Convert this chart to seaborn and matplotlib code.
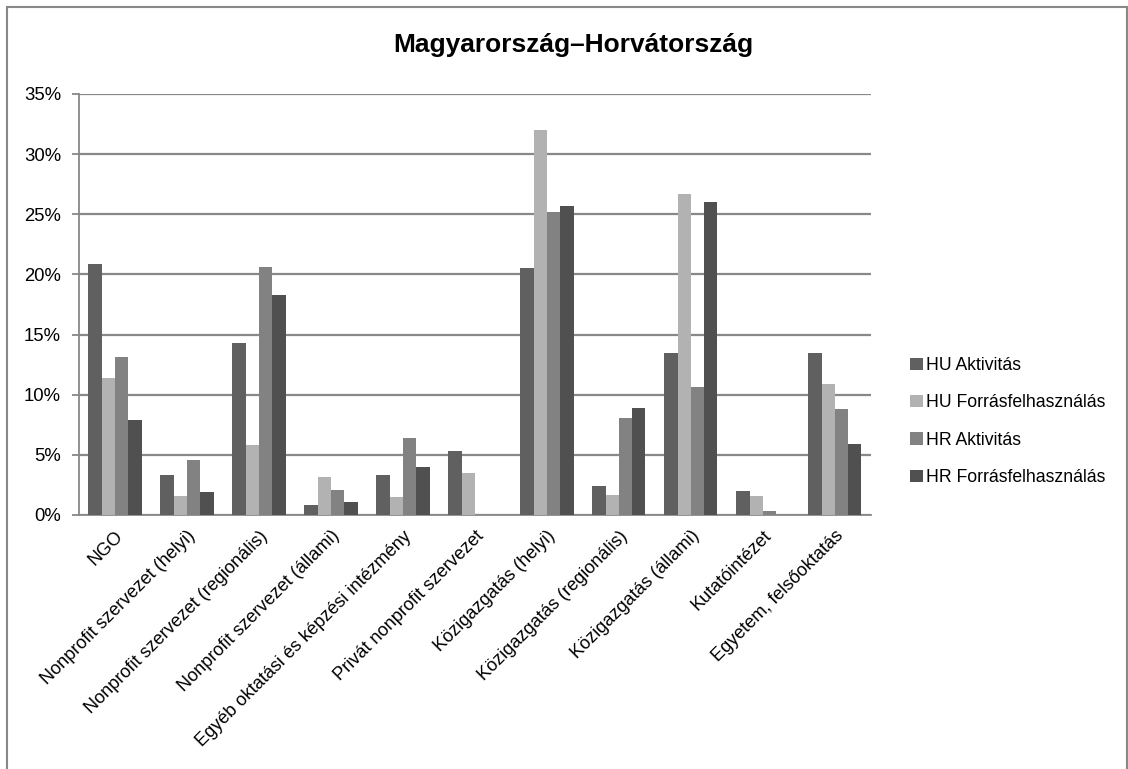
import numpy as np
import pandas as pd
import matplotlib.pyplot as plt
import seaborn as sns
from matplotlib.patches import Rectangle
from matplotlib.ticker import FuncFormatter

# Data
categories = ['NGO', 'Nonprofit szervezet (helyi)', 'Nonprofit szervezet (regionális)',
              'Nonprofit szervezet (állami)', 'Egyéb oktatási és képzési intézmény',
              'Privát nonprofit szervezet', 'Közigazgatás (helyi)', 'Közigazgatás (regionális)',
              'Közigazgatás (állami)', 'Kutatóintézet', 'Egyetem, felsőoktatás']
series = ['HU Aktivitás', 'HU Forrásfelhasználás', 'HR Aktivitás', 'HR Forrásfelhasználás']
hu_akt = [20.9, 3.3, 14.3, 0.8, 3.3, 5.3, 20.5, 2.4, 13.5, 2.0, 13.5]
hu_forr = [11.4, 1.6, 5.8, 3.2, 1.5, 3.5, 32.0, 1.7, 26.7, 1.6, 10.9]
hr_akt = [13.1, 4.6, 20.6, 2.1, 6.4, 0.0, 25.2, 8.1, 10.6, 0.3, 8.8]
hr_forr = [7.9, 1.9, 18.3, 1.1, 4.0, 0.0, 25.7, 8.9, 26.0, 0.0, 5.9]
colors = ['#606060', '#b2b2b2', '#828282', '#505050']

rows = []
for name, vals in zip(series, [hu_akt, hu_forr, hr_akt, hr_forr]):
    for cat, v in zip(categories, vals):
        rows.append({'Kategória': cat, 'Sorozat': name, 'Érték': v})
df = pd.DataFrame(rows)

sns.set_style('white')
plt.rcParams['font.family'] = ['Liberation Sans', 'DejaVu Sans']
plt.rcParams['text.color'] = 'black'

fig = plt.figure(figsize=(11.28, 7.69), dpi=100)
ax = fig.add_axes([0.070, 0.3303, 0.702, 0.5475])

sns.barplot(data=df, x='Kategória', y='Érték', hue='Sorozat', palette=colors,
            width=0.74, saturation=1, edgecolor='none', ax=ax, zorder=3)

ax.set_ylim(0, 35)
ax.set_xlim(-0.5, len(categories) - 0.5)
ax.set_yticks(range(0, 36, 5))
ax.yaxis.set_major_formatter(FuncFormatter(lambda v, p: f'{int(v)}%'))
ax.grid(axis='y', color='#888888', linewidth=1.6, zorder=0)
ax.set_axisbelow(True)

for s in ['top', 'right']:
    ax.spines[s].set_visible(False)
for s in ['left', 'bottom']:
    ax.spines[s].set_color('#888888')
    ax.spines[s].set_linewidth(1.3)

ax.set_xticks(range(len(categories)))
ax.set_xticklabels(categories, rotation=45, ha='right', rotation_mode='anchor', fontsize=13.1)
ax.set_xticks(np.arange(-0.5, len(categories), 1), minor=True)
ax.tick_params(axis='x', which='major', length=0, pad=9, labelcolor='black')
ax.tick_params(axis='x', which='minor', length=5, color='#888888', width=1.3)
ax.tick_params(axis='y', length=5, color='#888888', width=1.3, labelsize=13.3,
               labelcolor='black', left=True, pad=8)
ax.set_xlabel('')
ax.set_ylabel('')

ax.legend(loc='center left', bbox_to_anchor=(1.03, 0.222), frameon=False, fontsize=12.7,
          handlelength=0.7, handleheight=0.7, handletextpad=0.2, labelspacing=1.15)

fig.text(0.508, 0.941, 'Magyarország–Horvátország', ha='center', va='center',
         fontsize=19, fontweight='bold')

fig.patches.append(Rectangle((0.006, -0.01), 0.993, 1.001, transform=fig.transFigure,
                             fill=False, edgecolor='#888888', linewidth=1.5))

fig.savefig('out.png', dpi=100)
